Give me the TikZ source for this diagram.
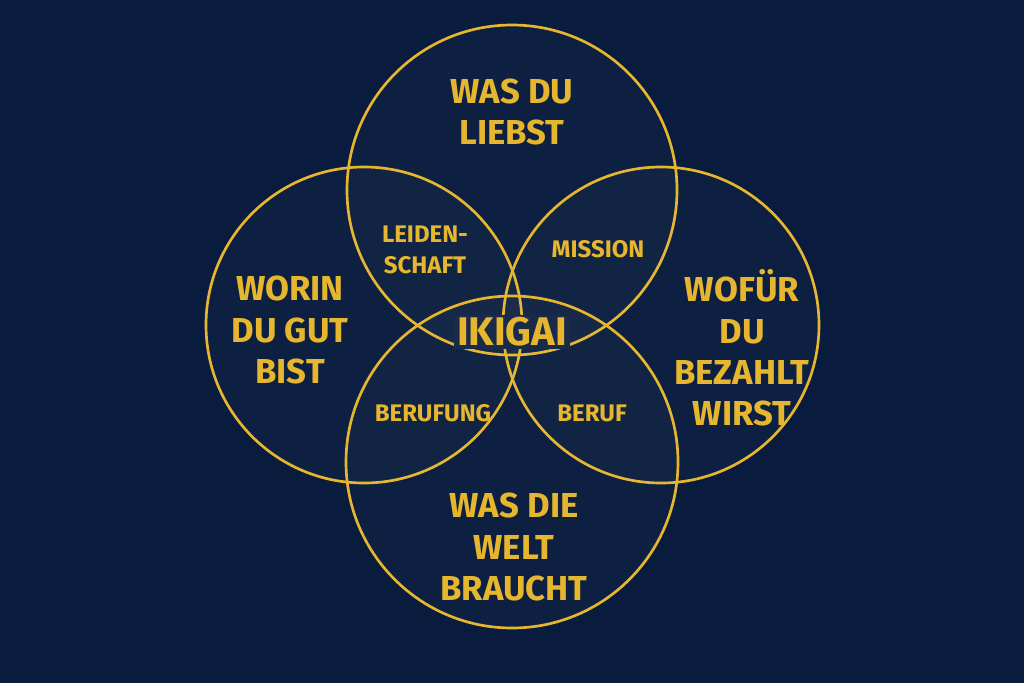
\documentclass[tikz,border=0pt]{standalone}
\usepackage{fontspec}
\setmainfont{Fira Sans}
\definecolor{bg}{HTML}{0A1C3E}
\definecolor{gold}{HTML}{E6B62E}
\begin{document}
\begin{tikzpicture}[x=0.75pt,y=-0.75pt,
  ring/.style={draw=gold,line width=2pt,fill=white,fill opacity=0.02},
  big/.style={text=gold,font=\fontsize{26}{31}\selectfont\bfseries,align=center},
  mid/.style={text=gold,font=\fontsize{18}{23}\selectfont\bfseries,align=center}]
\fill[bg] (0,0) rectangle (1024,683);
\useasboundingbox (0,0) rectangle (1024,683);
\path[ring] (512,190) circle (165);
\path[ring] (364,325) circle (158);
\path[ring] (661,325) circle (158);
\path[ring] (512,462) circle (166);
\node[big] (top) at (512,112) {WAS DU\\LIEBST};
\node[big] (left) at (290,330) {WORIN\\DU GUT\\BIST};
\node[big] (right) at (742,348) {WOFÜR\\DU\\BEZAHLT\\WIRST};
\node[big] (bot) at (514,547) {WAS DIE\\WELT\\BRAUCHT};
\node[mid] (lei) at (425,250) {LEIDEN-\\SCHAFT};
\node[mid] (mis) at (598,249) {MISSION};
\node[mid] (beru) at (433,413) {BERUFUNG};
\node[mid] (ber) at (592,413) {BERUF};
\node[text=gold,fill=white!6!bg,inner sep=2pt,font=\fontsize{30}{34}\selectfont\bfseries] (iki) at (512,332) {IKIGAI};
\end{tikzpicture}
\end{document}
